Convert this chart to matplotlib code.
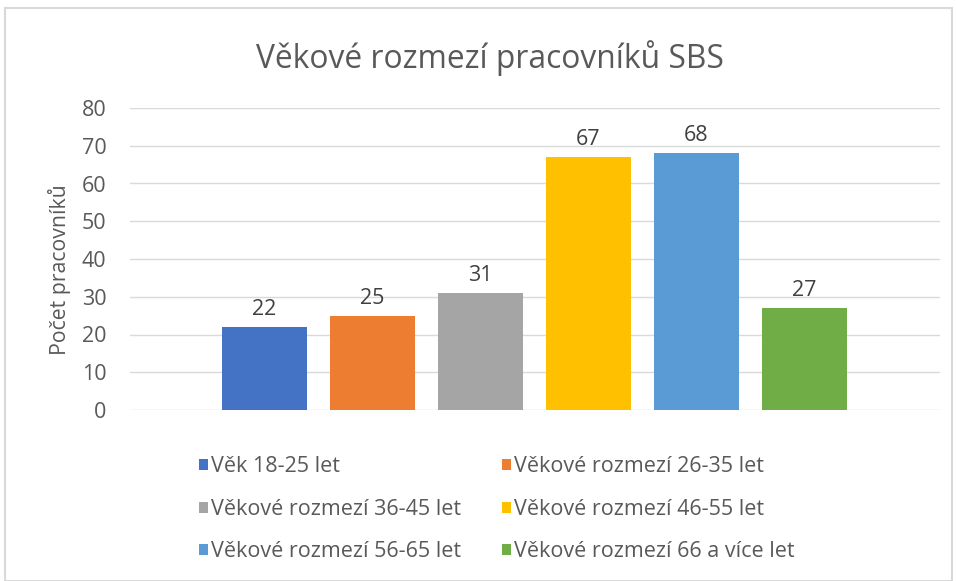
import matplotlib.pyplot as plt
from matplotlib.patches import Rectangle

# data
labels = ['Věk 18-25 let', 'Věkové rozmezí 26-35 let', 'Věkové rozmezí 36-45 let',
          'Věkové rozmezí 46-55 let', 'Věkové rozmezí 56-65 let', 'Věkové rozmezí 66 a více let']
values = [22, 25, 31, 67, 68, 27]
colors = ['#4472C4', '#ED7D31', '#A5A5A5', '#FFC000', '#5B9BD5', '#70AD47']
yticks = [0, 10, 20, 30, 40, 50, 60, 70, 80]

plt.rcParams['font.family'] = ['Open Sans', 'DejaVu Sans']
txt = '#595959'

fig = plt.figure(figsize=(9.57, 5.81), dpi=100)
ax = fig.add_axes([130/957, 1-410/581, 810/957, 302/581])

handles = []
for i, (lab, v, c) in enumerate(zip(labels, values, colors)):
    b = ax.bar(i, v, width=0.787, color=c, label=lab, zorder=3)
    ax.bar_label(b, padding=5, fontsize=15.5, color='#404040')
    handles.append(b)

ax.set_ylim(0, 80)
ax.set_xlim(-1.245, 6.255)
ax.set_yticks(yticks)
ax.set_xticks([])
ax.grid(axis='y', color='#d9d9d9', lw=1, zorder=0)
for s in ax.spines.values():
    s.set_visible(False)
ax.tick_params(axis='y', length=0, pad=17, labelsize=15.5, labelcolor=txt)
ax.set_ylabel('Počet pracovníků', fontsize=15.3, color=txt)
ax.yaxis.set_label_coords(-0.073, 0.4636)

fig.text(0.512, 1-58/581, 'Věkové rozmezí pracovníků SBS', ha='center', va='center',
         fontsize=22.9, color=txt)

# legend in row order
order = [0, 2, 4, 1, 3, 5]
leg = fig.legend([handles[i] for i in order], [labels[i] for i in order], ncol=2,
                 loc='upper left', bbox_to_anchor=(180/957, 1-437/581), frameon=False,
                 fontsize=15.5, labelcolor=txt, handlelength=0.42, handleheight=0.42,
                 handletextpad=0.12, columnspacing=1.9, labelspacing=1.0)

# outer frame
fig.patches.append(Rectangle((5/957, 0), 947/957, 1-8/581, transform=fig.transFigure,
                             fill=False, edgecolor='#d9d9d9', lw=1.5))

fig.savefig('out.png', dpi=100)
